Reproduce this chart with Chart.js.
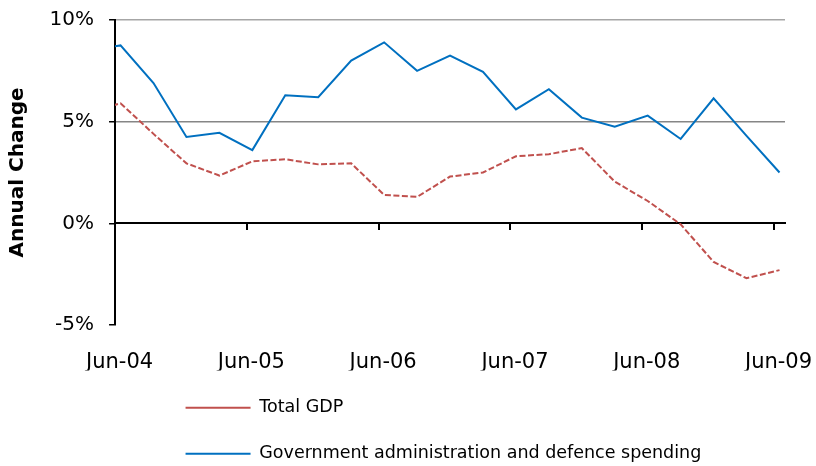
<!DOCTYPE html>
<html>
<head>
<meta charset="utf-8">
<script src="https://cdn.jsdelivr.net/npm/chart.js@4"></script>
<style>
  body { margin: 0; background: #fff; }
  #wrap { width: 816px; height: 466px; }
</style>
</head>
<body>
<div id="wrap"><canvas id="chart" width="816" height="466"></canvas></div>
<script>
// Quarterly observations (Mar-04 sits just left of the axis and gets clipped)
const quarters = ['Mar-04', 'Jun-04', 'Sep-04', 'Dec-04', 'Mar-05', 'Jun-05', 'Sep-05', 'Dec-05',
    'Mar-06', 'Jun-06', 'Sep-06', 'Dec-06', 'Mar-07', 'Jun-07', 'Sep-07', 'Dec-07',
    'Mar-08', 'Jun-08', 'Sep-08', 'Dec-08', 'Mar-09', 'Jun-09'];

const totalGdp = [5.45, 5.9, 4.4, 2.95, 2.35, 3.05, 3.15, 2.9,
    2.95, 1.4, 1.3, 2.3, 2.5, 3.3, 3.4, 3.7,
    2.05, 1.1, -0.05, -1.9, -2.7, -2.3];

const govSpending = [8.5, 8.75, 6.9, 4.25, 4.45, 3.6, 6.3, 6.2,
    8.0, 8.9, 7.5, 8.25, 7.45, 5.6, 6.6, 5.2,
    4.75, 5.3, 4.15, 6.15, 4.3, 2.5];

const tickLabels = ['Jun-04', 'Jun-05', 'Jun-06', 'Jun-07', 'Jun-08', 'Jun-09'];
const yTicks = [-5, 0, 5, 10];

const MONTHS = { Mar: 2, Jun: 5, Sep: 8, Dec: 11 };
function monthIndex(label) {
    const [m, y] = label.split('-');
    return (parseInt(y, 10) - 4) * 12 + MONTHS[m];
}

// points sit mid-month, ticks at the start of the month
const xs = quarters.map(q => monthIndex(q) + 0.5);
const xMin = monthIndex(tickLabels[0]);
const xMax = monthIndex(tickLabels[tickLabels.length - 1]) + 1;

const gridColors = { 10: '#a6a6a6', 5: '#868686' };
const LEGEND_INDENT = 42;

function setTicks(scale) {
    scale.ticks = tickLabels.map(l => ({ value: monthIndex(l) }));
}

Chart.defaults.font.family = 'DejaVu Sans';
Chart.defaults.color = '#000';

// push the (wrapped) legend rows right so they line up under the plot
const legendIndent = {
    id: 'legendIndent',
    afterLayout(chart) {
        chart.legend.left += LEGEND_INDENT;
        chart.legend.right += LEGEND_INDENT;
    }
};

new Chart(document.getElementById('chart'), {
    type: 'line',
    data: {
        datasets: [
            {
                label: 'Total GDP',
                data: totalGdp.map((v, i) => ({ x: xs[i], y: v })),
                borderColor: '#c0504d',
                backgroundColor: '#c0504d',
                borderWidth: 2,
                borderDash: [6, 2.5],
                pointRadius: 0,
                tension: 0
            },
            {
                label: 'Government administration and defence spending',
                data: govSpending.map((v, i) => ({ x: xs[i], y: v })),
                borderColor: '#0070c0',
                backgroundColor: '#0070c0',
                borderWidth: 2,
                pointRadius: 0,
                tension: 0
            }
        ]
    },
    options: {
        responsive: false,
        animation: false,
        devicePixelRatio: 1,
        layout: { padding: { top: 20, right: 31, bottom: -6.5, left: 0 } },
        plugins: {
            tooltip: { enabled: false },
            legend: {
                position: 'bottom',
                align: 'start',
                fullSize: false,
                labels: {
                    usePointStyle: true,
                    pointStyle: 'line',
                    pointStyleWidth: 65,
                    padding: 28.5,
                    font: { size: 17.5 },
                    color: '#000'
                }
            }
        },
        scales: {
            x: {
                type: 'linear',
                min: xMin,
                max: xMax,
                afterBuildTicks: setTicks,
                grid: { display: false, drawTicks: true, tickLength: 29.5 },
                border: { display: false },
                ticks: {
                    callback: (v, i) => tickLabels[i],
                    autoSkip: false,
                    maxRotation: 0,
                    labelOffset: 4.5,
                    padding: 0,
                    font: { size: 21, lineHeight: 16 / 21 }
                }
            },
            x0: {
                axis: 'x',
                type: 'linear',
                position: { y: 0 },
                min: xMin,
                max: xMax,
                afterBuildTicks: setTicks,
                grid: { drawOnChartArea: false, drawTicks: true, tickLength: 6, tickColor: '#000', lineWidth: 2 },
                border: { color: '#000', width: 2 },
                ticks: { display: false }
            },
            y: {
                min: yTicks[0],
                max: yTicks[yTicks.length - 1],
                afterBuildTicks: scale => { scale.ticks = yTicks.map(v => ({ value: v })); },
                grid: {
                    color: ctx => gridColors[ctx.tick.value] || 'rgba(0,0,0,0)',
                    lineWidth: 1.5,
                    tickColor: '#000',
                    tickLength: 6
                },
                border: { color: '#000', width: 2 },
                ticks: {
                    callback: v => v + '%',
                    padding: 15,
                    font: { size: 20, lineHeight: 0.5 }
                },
                title: {
                    display: true,
                    text: 'Annual Change',
                    font: { size: 20, weight: 'bold' },
                    padding: { top: 6, bottom: 4.6 }
                }
            }
        }
    },
    plugins: [legendIndent]
});
</script>
</body>
</html>
